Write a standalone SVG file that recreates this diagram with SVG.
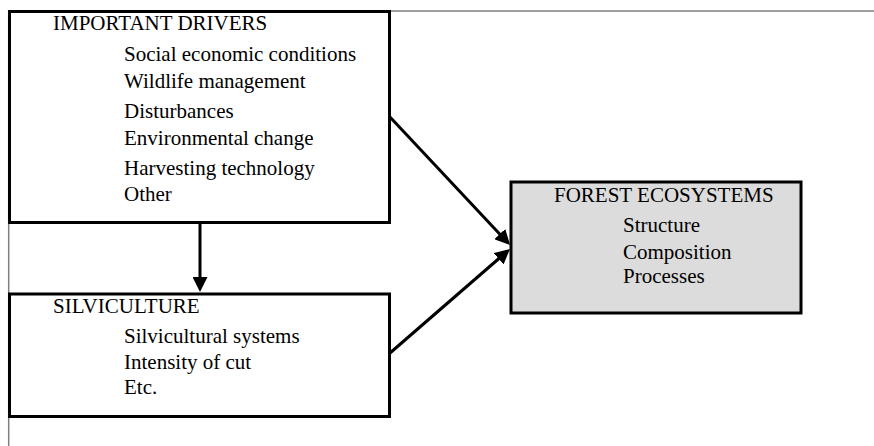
<svg xmlns="http://www.w3.org/2000/svg" width="874" height="446" viewBox="0 0 874 446">
<style>
.frame{fill:none;stroke:#808080;stroke-width:1.5}
.box{fill:#fff;stroke:#000;stroke-width:3}
.gray{fill:#dcdcdc}
.conn{fill:none;stroke:#000;stroke-width:3}
.t{font-family:'Liberation Serif','Times New Roman',serif;font-size:21px;fill:#000}
</style>
<defs>
<marker id="ah" viewBox="0 0 15 15" markerWidth="15" markerHeight="15" markerUnits="userSpaceOnUse" refX="5" refY="7.5" orient="auto">
<path d="M0,0 L15,7.5 L0,15 z" fill="#000"/>
</marker>
</defs>
<rect width="874" height="446" fill="#fff"/>
<path class="frame" d="M8.7,446 L8.7,11 L874,11"/>
<g id="drivers">
<rect class="box" x="9.5" y="11.5" width="380" height="211"/>
<text class="t" x="53" y="30">IMPORTANT DRIVERS</text>
<text class="t" x="124" y="61">Social economic conditions</text>
<text class="t" x="124" y="87.5">Wildlife management</text>
<text class="t" x="124" y="118">Disturbances</text>
<text class="t" x="124" y="145">Environmental change</text>
<text class="t" x="124" y="175">Harvesting technology</text>
<text class="t" x="124" y="201">Other</text>
</g>
<g id="silviculture">
<rect class="box" x="9.5" y="294" width="380" height="122.5"/>
<text class="t" x="53" y="312.5">SILVICULTURE</text>
<text class="t" x="124" y="342.5">Silvicultural systems</text>
<text class="t" x="124" y="369">Intensity of cut</text>
<text class="t" x="124" y="394">Etc.</text>
</g>
<g id="forest">
<rect class="box gray" x="511" y="182" width="290" height="131"/>
<text class="t" x="554" y="201.5">FOREST ECOSYSTEMS</text>
<text class="t" x="623" y="231.5">Structure</text>
<text class="t" x="623" y="259">Composition</text>
<text class="t" x="623" y="283">Processes</text>
</g>
<g id="connectors">
<path class="conn" d="M200,224 L200,282" marker-end="url(#ah)"/>
<path class="conn" d="M389,116 L503.2,237.7" marker-end="url(#ah)"/>
<path class="conn" d="M390,353 L502.4,255.5" marker-end="url(#ah)"/>
</g>
</svg>
